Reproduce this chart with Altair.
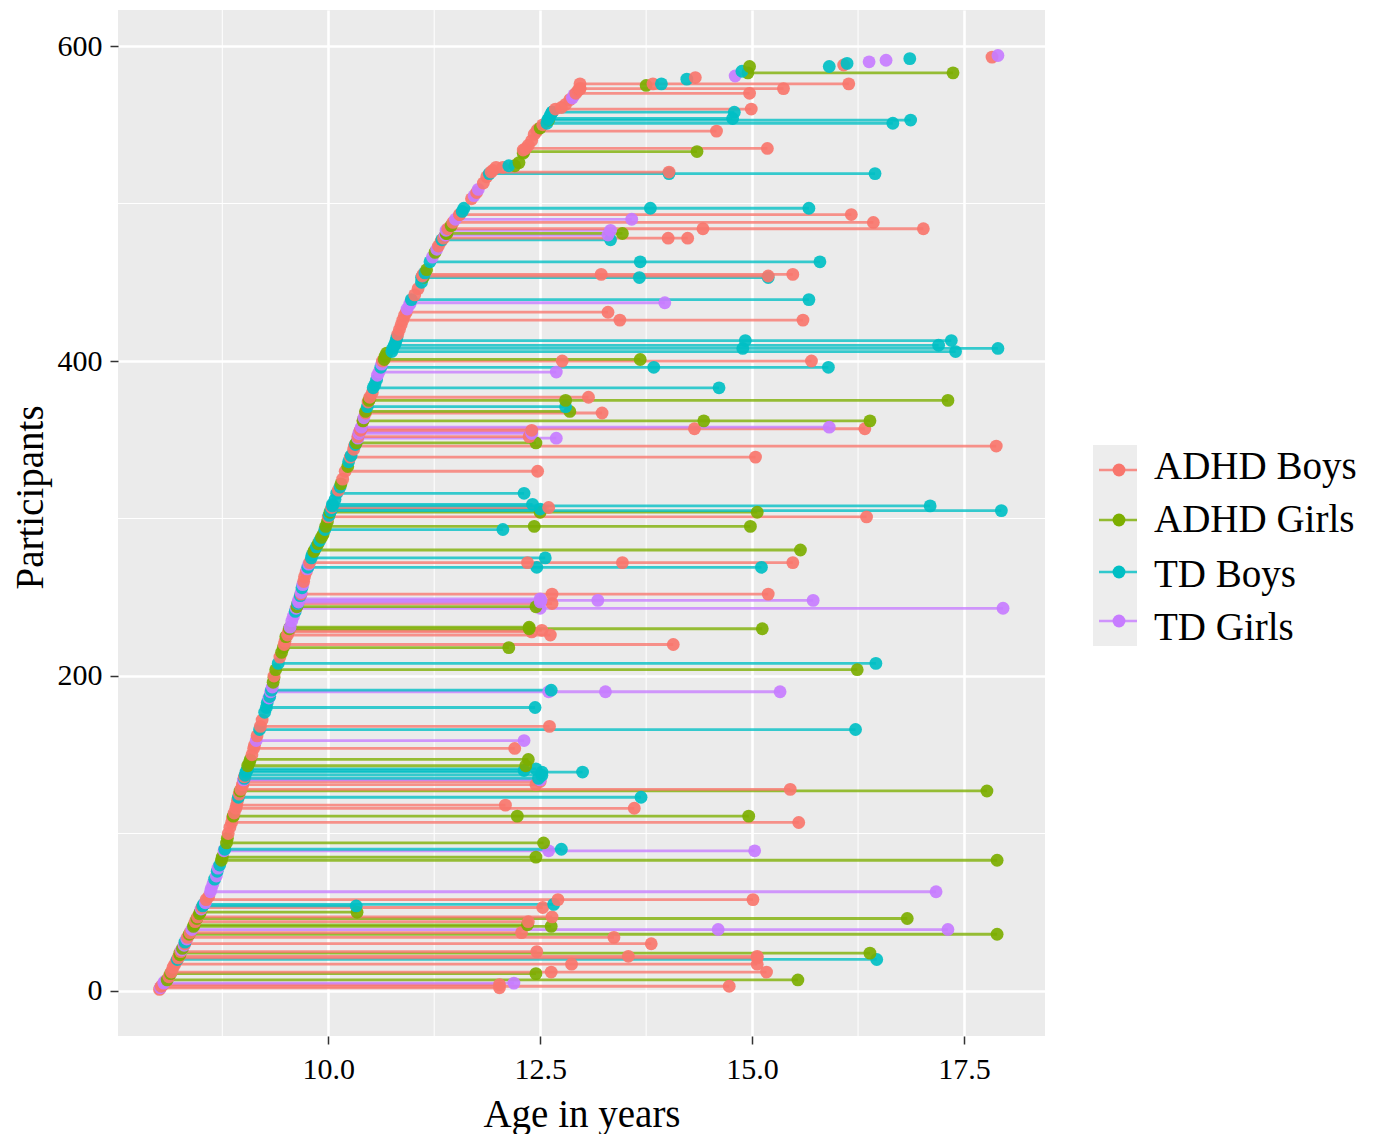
import altair as alt
import pandas as pd

GROUPS = ["ADHD Boys", "ADHD Girls", "TD Boys", "TD Girls"]
HUES = ["#F8766D", "#7CAE00", "#00BFC4", "#C77CFF"]

# Participants followed over time: (participant, [ages at each visit])
ADHD_BOYS = [
    (576, [12.97, 13.83, 16.14]), (573, [12.97, 15.37]), (570, [12.92, 14.97]), (560, [12.68, 14.99]),
    (546, [12.46, 14.58]), (535, [12.33, 15.18]), (520, [11.92, 14.02]), (493, [11.55, 16.17]),
    (488, [11.47, 16.43]), (484, [11.41, 14.42, 17.02]), (478, [11.36, 14.01, 14.24]),
    (455, [11.12, 13.22, 15.48]), (454, [11.11, 15.19]), (431, [10.92, 13.3]), (426, [10.88, 13.44, 15.6]),
    (400, [10.64, 12.76, 15.7]), (377, [10.49, 13.07]), (367, [10.44, 13.23]), (357, [10.39, 14.32, 16.33]),
    (356, [10.38, 12.4]), (352, [10.35, 12.37]), (346, [10.31, 17.88]), (339, [10.26, 15.04]), (330, [10.2, 12.47]),
    (307, [10.04, 12.6]), (301, [10.0, 16.35]), (272, [9.78, 12.35, 13.47, 15.48]),
    (252, [9.68, 12.64, 15.19]), (246, [9.64, 12.64]), (229, [9.54, 12.52]), (228, [9.53, 12.4]), (226, [9.52, 12.62]),
    (220, [9.48, 14.07]), (168, [9.2, 12.61]), (154, [9.12, 12.2]), (133, [9.0, 12.5]), (131, [8.99, 12.45]),
    (128, [8.97, 15.45]), (118, [8.92, 12.09]), (116, [8.91, 13.61]), (107, [8.86, 15.55]),
    (58, [8.56, 12.71, 15.01]), (53, [8.51, 12.53]), (47, [8.46, 12.64]), (44, [8.43, 12.36]),
    (37, [8.37, 12.28]), (34, [8.34, 13.37]), (30, [8.31, 13.81]), (25, [8.26, 12.46]),
    (22, [8.24, 13.54, 15.06]), (21, [8.23, 15.06]), (17, [8.19, 12.87, 15.06]), (12, [8.15, 12.63, 15.17]),
    (4, [8.05, 12.02]), (3, [8.03, 14.73]), (2, [8.02, 12.02]),
]
ADHD_GIRLS = [
    (583, [14.95, 17.37]), (533, [12.31, 14.35]), (481, [11.4, 13.47]), (401, [10.66, 13.68]),
    (375, [10.48, 12.8, 17.31]), (368, [10.44, 12.85]), (362, [10.41, 14.43, 16.39]), (348, [10.33, 12.45]),
    (304, [10.02, 12.5, 15.06]), (295, [9.97, 12.43, 14.98]), (280, [9.84, 15.57]), (244, [9.63, 12.45]),
    (231, [9.55, 12.37]), (230, [9.54, 12.37, 15.12]), (218, [9.47, 12.13]), (204, [9.38, 16.24]), (147, [9.08, 12.36]),
    (143, [9.05, 12.33]), (127, [8.96, 17.77]), (111, [8.88, 12.23, 14.96]), (94, [8.8, 12.54]),
    (85, [8.75, 12.45]), (83, [8.74, 17.89]), (50, [8.49, 10.34]), (46, [8.45, 16.83]), (42, [8.42, 12.35]), (41, [8.41, 12.63]),
    (36, [8.36, 17.89]), (24, [8.25, 16.39]), (11, [8.14, 12.45]), (7, [8.1, 15.54]),
]
TD_BOYS = [
    (558, [12.64, 14.79]), (554, [12.6, 14.77]), (553, [12.59, 16.87]), (551, [12.58, 16.66]),
    (519, [11.9, 14.02, 16.45]), (497, [11.6, 13.8, 15.67]), (477, [11.34, 13.33]), (463, [11.2, 13.68, 15.8]),
    (453, [11.1, 13.67, 15.19]), (439, [10.98, 15.67]), (413, [10.8, 14.92, 17.35]), (410, [10.78, 17.2]),
    (408, [10.76, 14.89, 17.9]), (406, [10.75, 17.4]), (396, [10.62, 13.84, 15.9]), (383, [10.53, 14.61]),
    (371, [10.46, 12.8]), (316, [10.1, 12.31]), (309, [10.05, 12.41]), (308, [10.05, 17.1]), (306, [10.04, 12.5]),
    (305, [10.03, 17.94]), (293, [9.96, 12.06]), (275, [9.8, 12.56]), (269, [9.76, 12.46, 15.11]),
    (208, [9.41, 16.46]), (191, [9.33, 12.63]), (180, [9.27, 12.44]), (166, [9.19, 16.22]), (141, [9.05, 12.45]),
    (140, [9.04, 12.31]), (139, [9.03, 12.52, 13.0]), (137, [9.02, 12.52]), (135, [9.01, 12.48]), (123, [8.94, 13.69]),
    (90, [8.78, 12.75]), (55, [8.53, 12.66]), (54, [8.52, 10.33]), (20, [8.22, 16.47]),
]
TD_GIRLS = [
    (490, [11.5, 13.58]), (483, [11.39, 13.33]), (480, [11.38, 13.3]), (437, [10.97, 13.97]), (393, [10.6, 12.69]),
    (358, [10.39, 15.91]), (355, [10.37, 12.4]), (354, [10.36, 12.4]), (351, [10.35, 12.69]), (249, [9.66, 12.5]),
    (248, [9.65, 12.51, 13.18, 15.72]), (247, [9.65, 12.5]), (243, [9.62, 12.5, 17.96]),
    (190, [9.32, 12.6, 13.27, 15.33]), (159, [9.15, 12.31]), (134, [9.0, 12.5]), (89, [8.77, 12.6, 15.03]),
    (63, [8.61, 17.17]), (39, [8.39, 14.6, 17.31]), (5, [8.06, 12.19]),
]

# Participants with one visit: (participant, age)
ONCE_ADHD_BOYS = [
    (1, 8.01), (9, 8.12), (15, 8.17), (19, 8.21), (60, 8.59), (100, 8.82), (104, 8.84), (110, 8.87), (113, 8.89),
    (121, 8.93), (125, 8.95), (131, 8.99), (136, 9.01), (150, 9.1), (156, 9.13), (162, 9.16), (172, 9.22),
    (200, 9.36), (212, 9.43), (222, 9.49), (260, 9.71), (263, 9.72), (266, 9.74), (318, 10.12), (325, 10.17),
    (344, 10.3), (355, 10.37), (362, 10.41), (374, 10.47), (380, 10.52), (417, 10.82), (420, 10.84), (423, 10.86),
    (429, 10.9), (442, 11.02), (446, 11.06), (473, 11.3), (476, 11.33), (493, 11.55), (503, 11.69), (507, 11.75),
    (513, 11.83), (517, 11.87), (521, 11.94), (523, 11.98), (523, 12.06), (534, 12.3), (537, 12.36), (540, 12.4),
    (544, 12.43), (547, 12.47), (550, 12.53), (561, 12.75), (563, 12.8), (566, 12.85), (572, 12.95), (573, 12.97),
    (580, 14.33), (593, 17.83), (588, 16.08),
]
ONCE_ADHD_GIRLS = [
    (23, 8.25), (27, 8.28), (49, 8.48), (97, 8.81), (145, 9.07), (196, 9.35), (199, 9.36), (215, 9.45), (225, 9.5),
    (279, 9.83), (284, 9.88), (288, 9.92), (290, 9.94), (298, 9.99), (322, 10.15), (333, 10.23), (376, 10.49),
    (403, 10.67), (405, 10.69), (453, 11.12), (458, 11.16), (469, 11.26), (481, 11.39), (486, 11.45), (524, 12.2),
    (526, 12.25), (532, 12.3), (548, 12.5), (553, 12.6), (575, 13.75), (587, 14.97),
]
ONCE_TD_BOYS = [
    (31, 8.31), (71, 8.66), (76, 8.69), (80, 8.72), (177, 9.25), (183, 9.28), (187, 9.31), (241, 9.61), (246, 9.64),
    (251, 9.67), (256, 9.69), (277, 9.81), (282, 9.86), (286, 9.9), (302, 10.01), (312, 10.08), (320, 10.14),
    (336, 10.24), (340, 10.27), (347, 10.32), (385, 10.55), (388, 10.57), (411, 10.79), (415, 10.81), (450, 11.1),
    (456, 11.14), (495, 11.58), (524, 12.13), (556, 12.62), (558, 12.64), (576, 13.93), (579, 14.23), (584, 14.88),
    (587, 15.91), (589, 16.12), (592, 16.86),
]
ONCE_TD_GIRLS = [
    (2, 8.02), (6, 8.07), (26, 8.27), (29, 8.3), (33, 8.33), (52, 8.5), (56, 8.55), (65, 8.62), (68, 8.64), (73, 8.68),
    (78, 8.7), (186, 9.3), (193, 9.34), (231, 9.55), (235, 9.57), (238, 9.59), (253, 9.68), (258, 9.7), (268, 9.75),
    (271, 9.77), (364, 10.42), (391, 10.58), (398, 10.63), (433, 10.93), (436, 10.96), (466, 11.23), (471, 11.28),
    (505, 11.72), (509, 11.77), (567, 12.88), (569, 12.9), (581, 14.8), (590, 16.38), (591, 16.58), (594, 17.9),
]

X_TICKS = [10.0, 12.5, 15.0, 17.5]
Y_TICKS = [0, 200, 400, 600]
X_MINOR = [8.75, 11.25, 13.75, 16.25]
Y_MINOR = [100, 300, 500]

rows = []
for name, followed, once in [
    (GROUPS[0], ADHD_BOYS, ONCE_ADHD_BOYS),
    (GROUPS[1], ADHD_GIRLS, ONCE_ADHD_GIRLS),
    (GROUPS[2], TD_BOYS, ONCE_TD_BOYS),
    (GROUPS[3], TD_GIRLS, ONCE_TD_GIRLS),
]:
    for pid, ages in followed:
        for a in ages:
            rows.append({"pid": f"{name}{pid}", "id": pid, "age": a, "group": name, "multi": True})
    for k, (pid, a) in enumerate(once):
        rows.append({"pid": f"{name}{pid}s{k}", "id": pid, "age": a, "group": name, "multi": False})
df = pd.DataFrame(rows).sort_values("id", kind="stable")
lines_df = df[df["multi"]]

FONT = "Liberation Serif"
x_scale = alt.Scale(domain=[7.52, 18.455], nice=False, zero=False)
y_scale = alt.Scale(domain=[-28.6, 622.9], nice=False, zero=False)
color = alt.Color("group:N", scale=alt.Scale(domain=GROUPS, range=HUES), legend=None)
x_enc = lambda f: alt.X(
    f, scale=x_scale, title="Age in years",
    axis=alt.Axis(values=X_TICKS, format=".1f", labelFlush=False, titlePadding=11, labelPadding=10),
)
y_enc = lambda f: alt.Y(
    f, scale=y_scale, title="Participants",
    axis=alt.Axis(values=Y_TICKS, format="d", titlePadding=7, labelPadding=8, titleY=487),
)

minor_x = alt.Chart(pd.DataFrame({"v": X_MINOR})).mark_rule(color="white", strokeWidth=1).encode(x=x_enc("v:Q"))
minor_y = alt.Chart(pd.DataFrame({"v": Y_MINOR})).mark_rule(color="white", strokeWidth=1).encode(y=y_enc("v:Q"))
lines = alt.Chart(lines_df).mark_line(strokeWidth=2.8, opacity=0.78).encode(
    x=x_enc("age:Q"), y=y_enc("id:Q"), color=color, detail="pid:N", order="age:Q"
)
points = alt.Chart(df).mark_circle(size=165, opacity=0.92).encode(
    x=x_enc("age:Q"), y=y_enc("id:Q"), color=color
)

layers = [minor_x, minor_y, lines, points]

# Hand-built key, positioned relative to the plot area
KEY_Y = [460, 510, 562, 611]
LABEL_Y = [457, 510, 565, 618]
one = pd.DataFrame({"k": [0]})
layers.append(alt.Chart(one).mark_rect(color="#EDEDED").encode(
    x=alt.value(975), x2=alt.value(1019), y=alt.value(435), y2=alt.value(636)))
for name, hue, ky, ly in zip(GROUPS, HUES, KEY_Y, LABEL_Y):
    layers.append(alt.Chart(one).mark_rule(color=hue, strokeWidth=2.6, opacity=0.8).encode(
        x=alt.value(981), x2=alt.value(1019), y=alt.value(ky)))
    layers.append(alt.Chart(one).mark_circle(color=hue, size=165, opacity=1).encode(
        x=alt.value(1001), y=alt.value(ky)))
    layers.append(alt.Chart(one).mark_text(
        text=name, font=FONT, fontSize=39, color="black", align="left", baseline="middle"
    ).encode(x=alt.value(1036), y=alt.value(ly)))

chart = (
    alt.layer(*layers)
    .properties(width=927, height=1026, padding={"left": 3, "top": 1, "right": 0, "bottom": 0})
    .configure_view(fill="#EBEBEB", strokeWidth=0)
    .configure_axis(
        grid=True, gridColor="white", gridWidth=2.6, domain=False,
        tickColor="#333333", tickSize=8, tickWidth=1.5,
        labelFont=FONT, labelFontSize=30, labelColor="black",
        titleFont=FONT, titleFontSize=39, titleFontWeight="normal", titleColor="black",
    )
)
chart.save("out.html", embed_options={"renderer": "svg", "actions": False})
